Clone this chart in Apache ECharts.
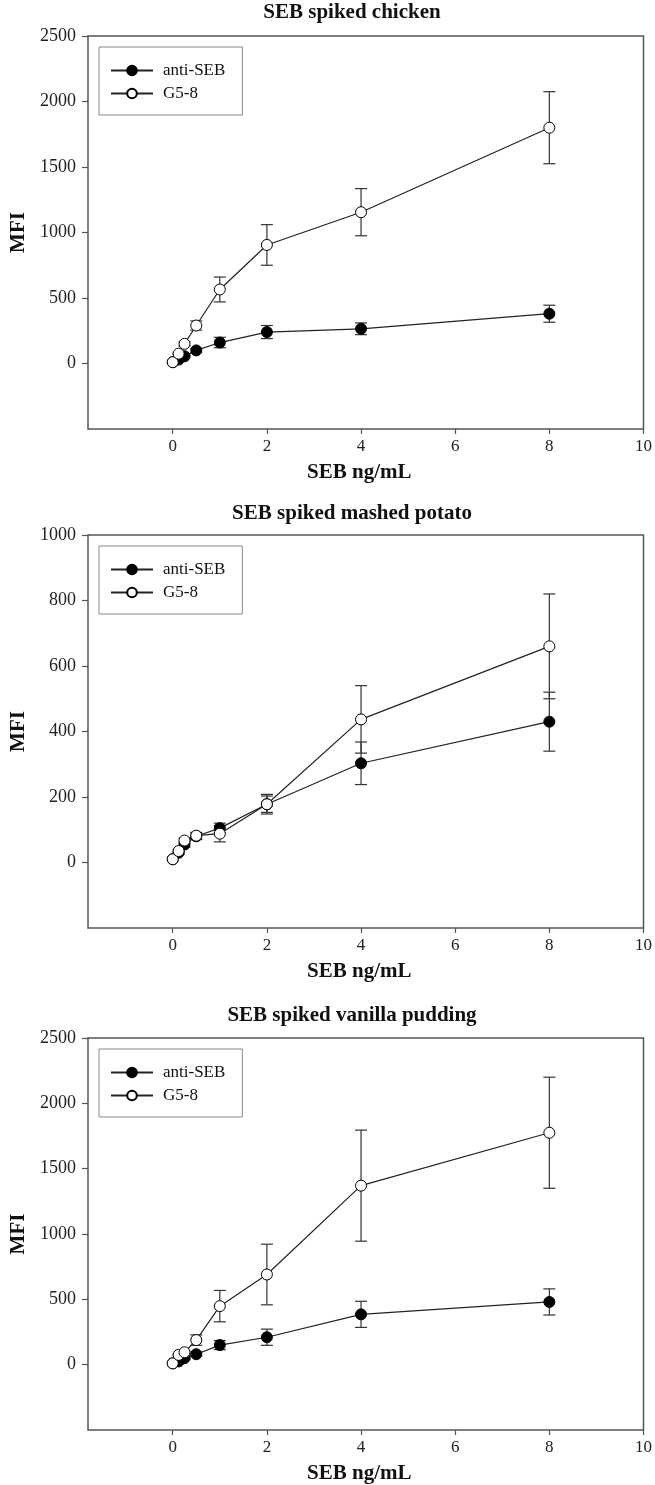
<!DOCTYPE html>
<html>
<head>
<meta charset="utf-8">
<script src="https://cdn.jsdelivr.net/npm/echarts@6/dist/echarts.min.js"></script>
<style>
html,body{margin:0;padding:0;background:#fff;}
#chart{width:655px;height:1485px;}
</style>
</head>
<body>
<div id="chart"></div>
<script>
// ---- data ----
const xVals = [0, 0.125, 0.25, 0.5, 1, 2, 4, 8];
const panelTitles = ['SEB spiked chicken', 'SEB spiked mashed potato', 'SEB spiked vanilla pudding'];
const seriesNames = ['anti-SEB', 'G5-8'];
const xTicks = [0, 2, 4, 6, 8, 10];
const yTicks1 = [0, 500, 1000, 1500, 2000, 2500];
const yTicks2 = [0, 200, 400, 600, 800, 1000];
const yTicks3 = [0, 500, 1000, 1500, 2000, 2500];

const chickenAnti = [10, 30, 55, 100, 160, 240, 265, 380];
const chickenAntiErr = [0, 5, 8, 15, 40, 50, 45, 65];
const chickenG58 = [10, 75, 150, 290, 565, 905, 1155, 1800];
const chickenG58Err = [0, 5, 15, 35, 95, 155, 180, 275];

const potatoAnti = [10, 30, 55, 80, 105, 178, 303, 430];
const potatoAntiErr = [0, 5, 8, 10, 15, 30, 65, 90];
const potatoG58 = [10, 35, 67, 82, 88, 178, 437, 660];
const potatoG58Err = [0, 5, 8, 10, 25, 25, 103, 160];

const puddingAnti = [10, 25, 50, 80, 150, 210, 385, 480];
const puddingAntiErr = [0, 5, 8, 15, 35, 62, 100, 100];
const puddingG58 = [10, 75, 95, 188, 448, 690, 1370, 1775];
const puddingG58Err = [0, 5, 10, 40, 120, 232, 425, 425];

const panels = [
  {anti: chickenAnti, antiErr: chickenAntiErr, g: chickenG58, gErr: chickenG58Err, yTicks: yTicks1, yMin: -500, yMax: 2500},
  {anti: potatoAnti, antiErr: potatoAntiErr, g: potatoG58, gErr: potatoG58Err, yTicks: yTicks2, yMin: -200, yMax: 1000},
  {anti: puddingAnti, antiErr: puddingAntiErr, g: puddingG58, gErr: puddingG58Err, yTicks: yTicks3, yMin: -500, yMax: 2500}
];

// ---- layout ----
const FONT = "'Liberation Serif','Times New Roman',serif";
const gridTops = [36, 535, 1038];
const gridH = 393;
const titleTops = [2, 503, 1005];

function errRender(params, api) {
  const x = api.value(0), lo = api.value(1), hi = api.value(2);
  if (hi - lo <= 0) return null;
  const a = api.coord([x, lo]), b = api.coord([x, hi]);
  const w = 6;
  const st = {stroke: '#333', lineWidth: 1.2};
  return {type: 'group', children: [
    {type: 'line', shape: {x1: a[0], y1: a[1], x2: b[0], y2: b[1]}, style: st},
    {type: 'line', shape: {x1: a[0] - w, y1: a[1], x2: a[0] + w, y2: a[1]}, style: st},
    {type: 'line', shape: {x1: b[0] - w, y1: b[1], x2: b[0] + w, y2: b[1]}, style: st}
  ]};
}

const plain = v => String(v);

const grid = [], xAxis = [], yAxis = [], series = [], title = [], legend = [];
panels.forEach((p, i) => {
  grid.push({left: 88, right: 8, top: gridTops[i], height: gridH, show: true,
    borderColor: '#555', borderWidth: 1.5, backgroundColor: '#fff'});
  title.push({text: panelTitles[i], left: 352, top: titleTops[i], textAlign: 'center', padding: 0,
    textStyle: {fontFamily: FONT, fontSize: 21, fontWeight: 'bold', color: '#111'}});
  xAxis.push({type: 'value', gridIndex: i, min: -1.8, max: 10,
    name: 'SEB ng/mL', nameLocation: 'middle', nameGap: 33,
    nameTextStyle: {fontFamily: FONT, fontSize: 21, fontWeight: 'bold', color: '#111', padding: [0, 13, 0, 0]},
    axisLine: {show: false, onZero: false}, splitLine: {show: false},
    axisTick: {show: true, length: 5, customValues: xTicks, lineStyle: {color: '#555', width: 1.2}},
    axisLabel: {customValues: xTicks, formatter: plain, margin: 9, fontFamily: FONT, fontSize: 17, color: '#222'}
  });
  yAxis.push({type: 'value', gridIndex: i, min: p.yMin, max: p.yMax,
    name: 'MFI', nameLocation: 'middle', nameGap: 58,
    nameTextStyle: {fontFamily: FONT, fontSize: 21, fontWeight: 'bold', color: '#111'},
    axisLine: {show: false, onZero: false}, splitLine: {show: false},
    axisTick: {show: true, length: 6, customValues: p.yTicks, lineStyle: {color: '#555', width: 1.2}},
    axisLabel: {customValues: p.yTicks, formatter: plain, margin: 12, fontFamily: FONT, fontSize: 18, color: '#222'}
  });
  const mk = (vals, errs) => xVals.map((x, k) => [x, vals[k] - errs[k], vals[k] + errs[k]]);
  series.push({type: 'custom', xAxisIndex: i, yAxisIndex: i, renderItem: errRender,
    encode: {x: 0, y: [1, 2]}, data: mk(p.anti, p.antiErr), z: 1, silent: true});
  series.push({type: 'custom', xAxisIndex: i, yAxisIndex: i, renderItem: errRender,
    encode: {x: 0, y: [1, 2]}, data: mk(p.g, p.gErr), z: 1, silent: true});
  series.push({type: 'line', name: seriesNames[0], xAxisIndex: i, yAxisIndex: i, z: 3,
    data: xVals.map((x, k) => [x, p.anti[k]]),
    symbol: 'circle', symbolSize: 11,
    lineStyle: {color: '#222', width: 1.2},
    itemStyle: {color: '#000', borderColor: '#000', borderWidth: 1}});
  series.push({type: 'line', name: seriesNames[1], xAxisIndex: i, yAxisIndex: i, z: 4,
    data: xVals.map((x, k) => [x, p.g[k]]),
    symbol: 'circle', symbolSize: 11,
    lineStyle: {color: '#222', width: 1.2},
    itemStyle: {color: '#fff', borderColor: '#000', borderWidth: 1}});
  legend.push({data: seriesNames, orient: 'vertical', left: 99, top: gridTops[i] + 11,
    itemWidth: 42, itemHeight: 12, itemGap: 6,
    padding: [15, 17, 13, 11], borderColor: '#888', borderWidth: 1,
    selectedMode: false,
    textStyle: {fontFamily: FONT, fontSize: 17, color: '#111', padding: [0, 0, 0, 5]}});
});

const chart = echarts.init(document.getElementById('chart'), null, {renderer: 'canvas'});
chart.setOption({animation: false, backgroundColor: '#fff', title, legend, grid, xAxis, yAxis, series});
</script>
</body>
</html>
